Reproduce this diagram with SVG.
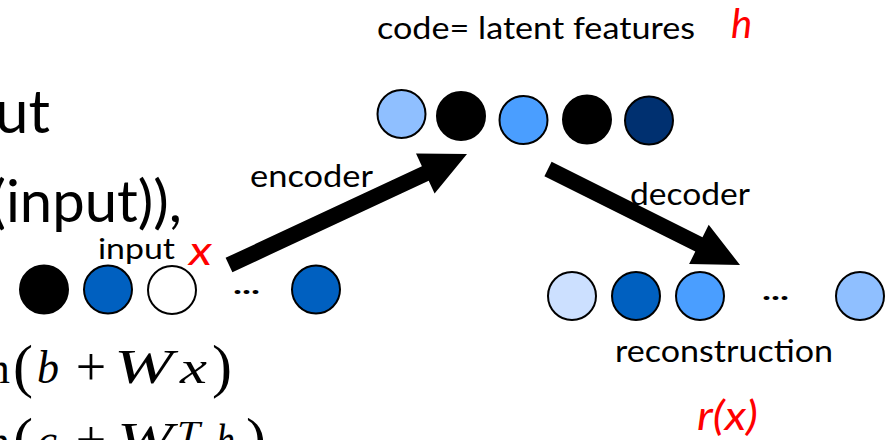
<svg xmlns="http://www.w3.org/2000/svg" width="888" height="440" viewBox="0 0 888 440">
<style>
  .lbl { font-family: Lato, "Open Sans", "Liberation Sans", sans-serif; fill: #000; }
  .red { font-family: Lato, "Open Sans", "Liberation Sans", sans-serif; font-style: italic; fill: #FF0000; }
  .math { font-family: "Liberation Serif", "DejaVu Serif", serif; fill: #000; }
  .it { font-style: italic; }
  .unit { stroke: #000; stroke-width: 2; }
  .dots { font-family: Lato, "Liberation Sans", sans-serif; font-weight: bold; fill: #000; }
  .arrow { fill: #000; stroke: none; }
</style>
<rect width="888" height="440" fill="#FFFFFF"/>

<!-- slide text fragments on the left -->
<g id="slide-text">
  <text class="lbl" x="50" y="133" font-size="60" text-anchor="end">ut</text>
  <text class="lbl" x="182" y="222" font-size="58" text-anchor="end">(input)),</text>
</g>

<!-- math fragments -->
<g id="formula-h">
  <text class="math" x="10" y="383" font-size="44" text-anchor="end">m</text>
  <text class="math" x="13" y="386" font-size="60">(</text>
  <text class="math it" x="37" y="383" font-size="46" textLength="22" lengthAdjust="spacingAndGlyphs">b</text>
  <text class="math" x="91" y="385" font-size="54" text-anchor="middle">+</text>
  <text class="math it" x="114" y="383" font-size="48" textLength="59" lengthAdjust="spacingAndGlyphs">W</text>
  <text class="math it" x="180" y="383" font-size="46" textLength="27" lengthAdjust="spacingAndGlyphs">x</text>
  <text class="math" x="212" y="386" font-size="60">)</text>
</g>
<g id="formula-r">
  <text class="math" x="10" y="456" font-size="44" text-anchor="end">m</text>
  <text class="math" x="13" y="459" font-size="60">(</text>
  <text class="math it" x="37" y="456" font-size="46" textLength="20" lengthAdjust="spacingAndGlyphs">c</text>
  <text class="math" x="91" y="458" font-size="54" text-anchor="middle">+</text>
  <text class="math it" x="117" y="456" font-size="48" textLength="56" lengthAdjust="spacingAndGlyphs">W</text>
  <text class="math it" x="177" y="443" font-size="32" textLength="23" lengthAdjust="spacingAndGlyphs">T</text>
  <text class="math it" x="216" y="456" font-size="46" textLength="19" lengthAdjust="spacingAndGlyphs">h</text>
  <text class="math" x="246" y="459" font-size="60">)</text>
</g>

<!-- connectors -->
<g id="connectors">
  <polygon id="encoder-arrow" class="arrow" points="225.6,257.8 421.9,166.3 416,153.6 467,154 434.6,193.4 428.7,180.7 232.4,272.2"/>
  <polygon id="decoder-arrow" class="arrow" points="544.4,176.2 695.3,251.6 689.1,264.1 740,265 708.7,224.7 702.5,237.2 551.6,161.8"/>
</g>

<!-- input layer -->
<g id="input-layer">
  <text class="lbl" x="98" y="259" font-size="28" textLength="77" lengthAdjust="spacingAndGlyphs">input</text>
  <text class="red" x="189" y="265" font-size="40" textLength="23" lengthAdjust="spacingAndGlyphs">x</text>
  <circle class="unit" cx="44" cy="289.5" r="24" fill="#000000"/>
  <circle class="unit" cx="108" cy="289.5" r="24" fill="#0060C0"/>
  <circle class="unit" cx="172" cy="290" r="24" fill="#FFFFFF"/>
  <text class="dots" x="233" y="294" font-size="26" textLength="27" lengthAdjust="spacingAndGlyphs">...</text>
  <circle class="unit" cx="316" cy="289.5" r="24" fill="#0060C0"/>
</g>

<!-- code layer -->
<g id="code-layer">
  <text class="lbl" x="377" y="39" font-size="30" textLength="318" lengthAdjust="spacingAndGlyphs">code= latent features</text>
  <text class="red" x="731" y="38" font-size="40">h</text>
  <circle class="unit" cx="401.5" cy="114" r="24" fill="#8FBFFF"/>
  <circle class="unit" cx="461" cy="116" r="24" fill="#000000"/>
  <circle class="unit" cx="523.5" cy="120" r="24" fill="#4A9EFF"/>
  <circle class="unit" cx="587" cy="119.5" r="24" fill="#000000"/>
  <circle class="unit" cx="649" cy="120.5" r="24" fill="#003070"/>
</g>

<!-- arrow labels -->
<g id="encoder-label">
  <text class="lbl" x="250" y="187" font-size="30" textLength="123" lengthAdjust="spacingAndGlyphs">encoder</text>
</g>
<g id="decoder-label">
  <text class="lbl" x="630" y="205" font-size="30" textLength="120" lengthAdjust="spacingAndGlyphs">decoder</text>
</g>

<!-- reconstruction layer -->
<g id="reconstruction-layer">
  <circle class="unit" cx="572" cy="296" r="24" fill="#CCE0FF"/>
  <circle class="unit" cx="636" cy="296" r="24" fill="#0060C0"/>
  <circle class="unit" cx="700" cy="296" r="24" fill="#4A9EFF"/>
  <text class="dots" x="762" y="300" font-size="26" textLength="27" lengthAdjust="spacingAndGlyphs">...</text>
  <circle class="unit" cx="860" cy="296" r="24" fill="#8FBFFF"/>
  <text class="lbl" x="615" y="362" font-size="30" textLength="218" lengthAdjust="spacingAndGlyphs">reconstruction</text>
  <text class="red" x="697" y="430" font-size="40" textLength="61" lengthAdjust="spacingAndGlyphs">r(x)</text>
</g>
</svg>
